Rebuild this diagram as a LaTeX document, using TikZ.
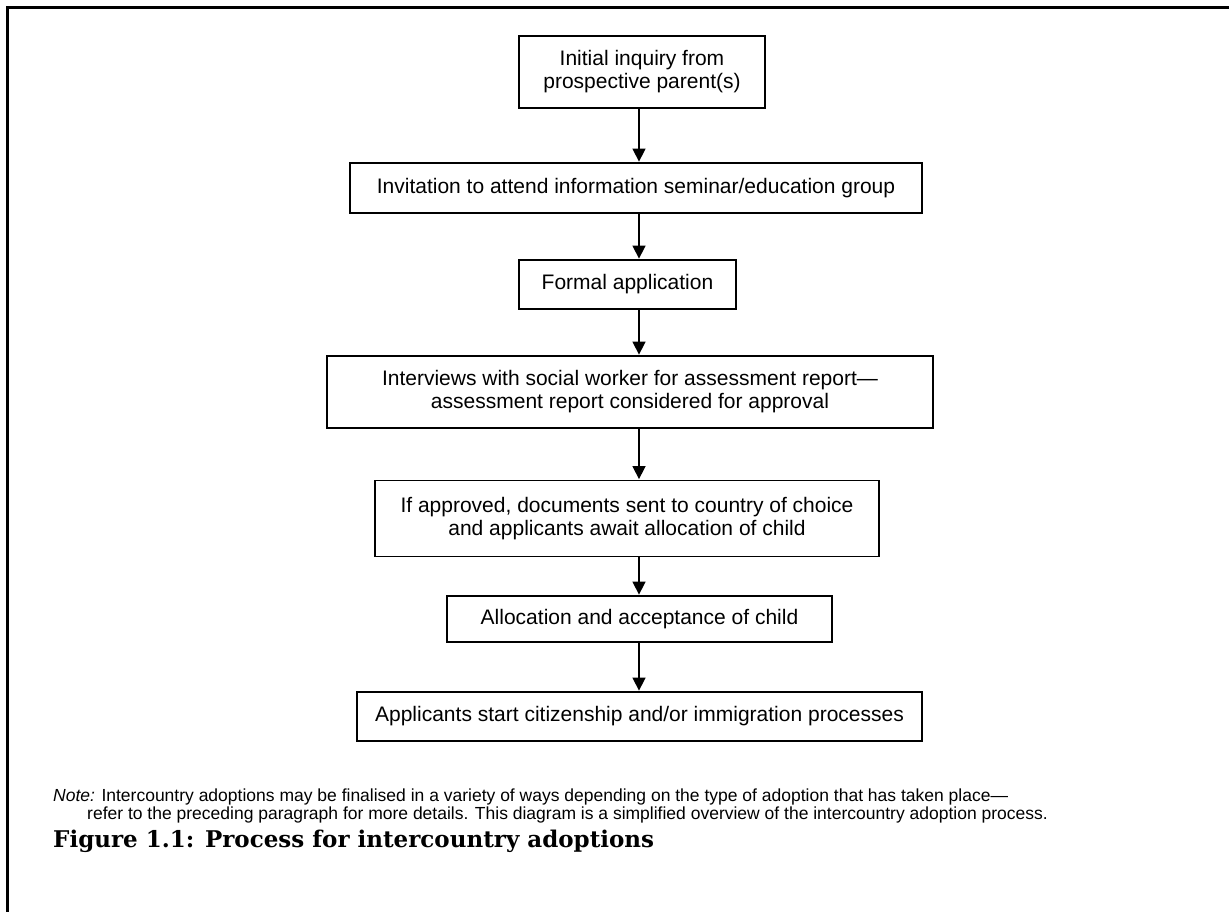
\documentclass[tikz,border=0pt]{standalone}
\usepackage{fontspec}
\newfontfamily\arial{Liberation Sans}
\newfontfamily\capfont{DejaVu Serif}
\usetikzlibrary{arrows.meta}
\begin{document}
\begin{tikzpicture}[x=1pt,y=-1pt,
  box/.style={draw, line width=1.8pt, inner sep=0pt, align=center,
    font=\arial\fontsize{21}{23}\selectfont},
  flow/.style={-{Triangle[width=13pt,length=13pt]}, line width=1.5pt, shorten >=0.5pt},
  notetext/.style={anchor=base west, inner sep=0pt, font=\arial\fontsize{17.5}{19}\selectfont},
  frame/.style={line width=2.6pt}]
\useasboundingbox (0,0) rectangle (1229,912);
\draw[frame] (7.5,913) -- (7.5,7.5) -- (1230,7.5);

\node[box, minimum width=246pt, minimum height=72pt] (b1) at (642,72)
  {Initial inquiry from\\prospective parent(s)};
\node[box, minimum width=572pt, minimum height=50pt] (b2) at (636,188)
  {Invitation to attend information seminar/education group};
\node[box, minimum width=217pt, minimum height=49pt] (b3) at (627.5,284.5)
  {Formal application};
\node[box, minimum width=606pt, minimum height=72pt] (b4) at (630,392)
  {Interviews with social worker for assessment report—\\assessment report considered for approval};
\node[box, minimum width=504pt, minimum height=76pt] (b5) at (627,518.5)
  {If approved, documents sent to country of choice\\and applicants await allocation of child};
\node[box, minimum width=385pt, minimum height=46pt] (b6) at (639.5,619)
  {Allocation and acceptance of child};
\node[box, minimum width=565pt, minimum height=49pt] (b7) at (639.5,716.5)
  {Applicants start citizenship and/or immigration processes};

\coordinate (ax) at (639,0);
\draw[flow] (b1.south -| ax) -- (b2.north -| ax);
\draw[flow] (b2.south -| ax) -- (b3.north -| ax);
\draw[flow] (b3.south -| ax) -- (b4.north -| ax);
\draw[flow] (b4.south -| ax) -- (b5.north -| ax);
\draw[flow] (b5.south -| ax) -- (b6.north -| ax);
\draw[flow] (b6.south -| ax) -- (b7.north -| ax);

\node[notetext] (note1) at (53,801)
  {\textit{Note:} Intercountry adoptions may be finalised in a variety of ways depending on the type of adoption that has taken place—};
\node[notetext] (note2) at (87,819)
  {refer to the preceding paragraph for more details. This diagram is a simplified overview of the intercountry adoption process.};

\node[anchor=base west, inner sep=0pt, font=\capfont\bfseries\fontsize{23}{26}\selectfont] (cap) at (53,847)
  {Figure 1.1: Process for intercountry adoptions};
\end{tikzpicture}
\end{document}
